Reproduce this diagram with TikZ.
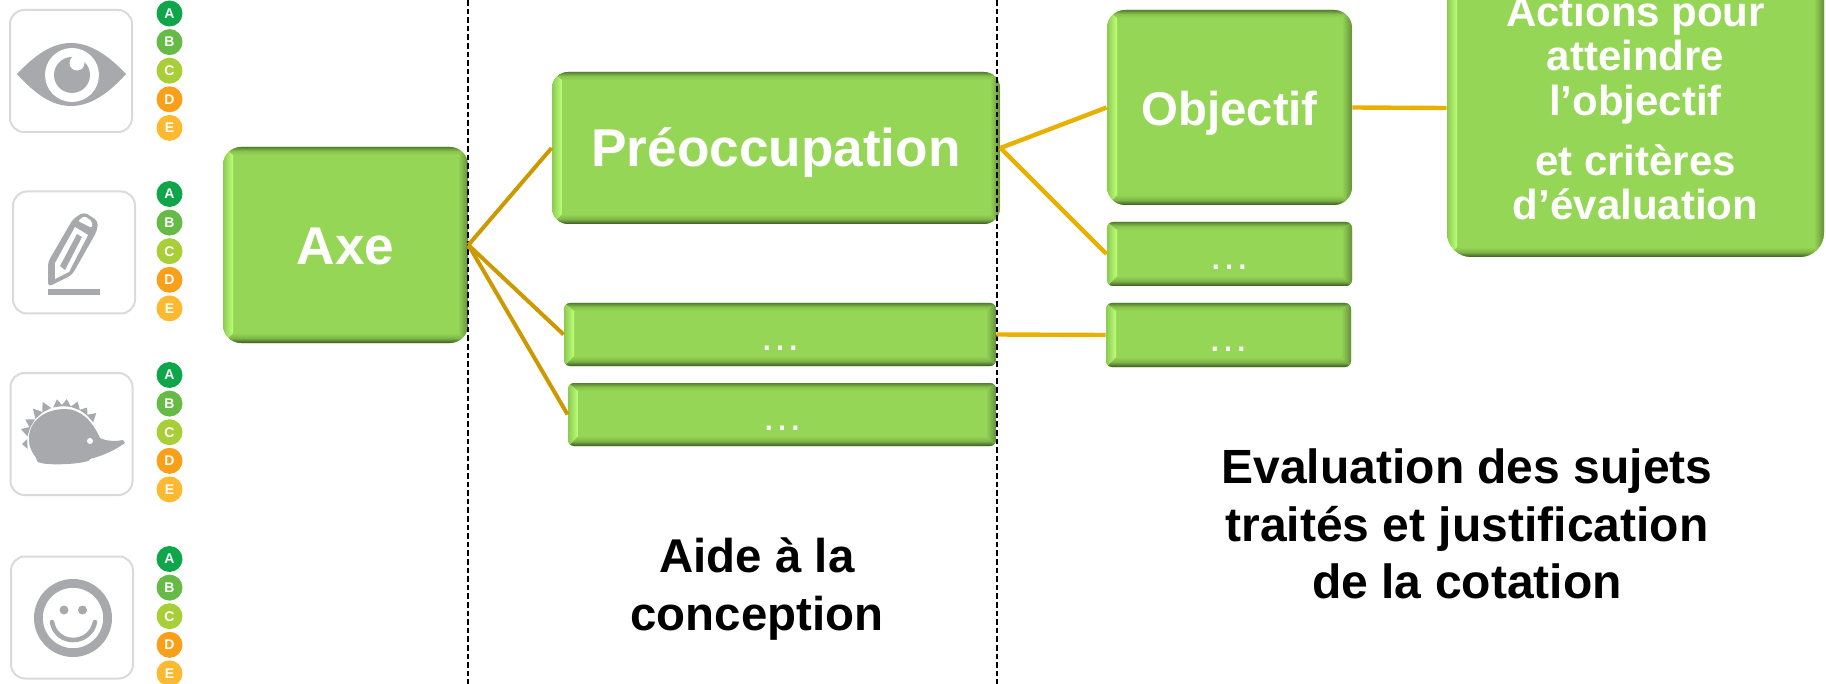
\documentclass[tikz,border=0pt]{standalone}
\usepackage{fontspec}
\usetikzlibrary{calc}
\setmainfont{Liberation Sans}
\definecolor{boxgreen}{HTML}{96D656}
\definecolor{glow}{HTML}{BEFF7A}
\definecolor{edgeleft}{HTML}{8CCB50}
\definecolor{edgetop}{HTML}{557F30}
\definecolor{edgebottom}{HTML}{3A5720}
\definecolor{edgemid}{HTML}{7FB648}
\definecolor{edgeright}{HTML}{668F3C}
\definecolor{linkdark}{HTML}{CC9900}
\definecolor{linklight}{HTML}{E8B000}
\definecolor{framegray}{HTML}{DADADA}
\definecolor{icongray}{HTML}{A7A9AC}
\definecolor{ratea}{HTML}{0FA64B}
\definecolor{rateb}{HTML}{66BB46}
\definecolor{ratec}{HTML}{A8CF38}
\definecolor{rated}{HTML}{F9A01B}
\definecolor{ratee}{HTML}{FDB92F}
\newcommand{\bevelstrips}{
\coordinate (nw) at (path picture bounding box.north west);
\coordinate (ne) at (path picture bounding box.north east);
\coordinate (sw) at (path picture bounding box.south west);
\coordinate (se) at (path picture bounding box.south east);
\shade [sharp corners,top color=edgetop,bottom color=boxgreen,middle color=edgemid!60!boxgreen] (nw) -- (ne) -- ([xshift=-5pt,yshift=-4pt]ne) -- ([xshift=5pt,yshift=-4pt]nw) -- cycle;
\shade [sharp corners,top color=boxgreen,bottom color=edgebottom,middle color=edgemid] (sw) -- (se) -- ([xshift=-5pt,yshift=5pt]se) -- ([xshift=5pt,yshift=5pt]sw) -- cycle;
\shade [sharp corners,left color=boxgreen,right color=edgeright] (ne) -- (se) -- ([xshift=-5pt,yshift=5pt]se) -- ([xshift=-5pt,yshift=-4pt]ne) -- cycle;
\shade [sharp corners,left color=edgeleft,right color=glow] (nw) -- (sw) -- ([xshift=5pt,yshift=5pt]sw) -- ([xshift=5pt,yshift=-4pt]nw) -- cycle;
}
\tikzset{
bevel/.style={fill=boxgreen,text=white,inner sep=0pt,path picture={\bevelstrips}},
bigbox/.style={bevel,rounded corners=8pt,font=\fontsize{26.6}{30}\bfseries\selectfont,text height=19pt,text depth=0pt},
smallbox/.style={bevel,rounded corners=3pt,font=\fontsize{21}{24}\selectfont,text height=16pt,text depth=0pt},
caption/.style={align=center,font=\fontsize{23.7}{28.6}\bfseries\selectfont},
frame/.style={draw=framegray,line width=1pt,rounded corners=7pt,minimum size=61pt},
rate/.style={circle,inner sep=0pt,minimum size=13pt,text=white,font=\fontsize{7}{7}\bfseries\selectfont},
linka/.style={draw=linkdark,line width=2pt},
linkb/.style={draw=linklight,line width=2.2pt},
limit/.style={line width=1.2pt,dash pattern=on 2.8pt off 1.5pt},
}
\begin{document}
\begin{tikzpicture}[x=.5pt,y=-.5pt]
\path [use as bounding box,clip] (0,0) rectangle (1826,684);
\node (axe) [bigbox,rounded corners=9pt,minimum width=122.5pt,minimum height=98pt] at (345.5,245) {Axe};
\node (preocc) [bigbox,minimum width=224pt,minimum height=76pt] at (776,148) {Préoccupation};
\node (sub1) [smallbox,minimum width=216pt,minimum height=31.5pt] at (780,334.5) {…};
\node (sub2) [smallbox,minimum width=214pt,minimum height=31.5pt] at (782,414.5) {…};
\node (objectif) [bigbox,rounded corners=9pt,minimum width=122.5pt,minimum height=97.5pt,font=\fontsize{23.7}{28}\bfseries\selectfont,text height=18pt] at (1229.5,107.5) {Objectif};
\node (obj2) [smallbox,minimum width=122.5pt,minimum height=32pt] at (1229.5,254) {…};
\node (obj3) [smallbox,minimum width=122.5pt,minimum height=32pt] at (1228.5,335) {…};
\node (actions) [bevel,rounded corners=12pt,minimum width=188.5pt,minimum height=149pt,align=center,font=\fontsize{21}{22.3}\bfseries\selectfont] at (1635.5,108) {Actions pour\\atteindre\\l’objectif\\[7.5pt]et critères\\d’évaluation};
\draw [limit] (468,0) -- (468,684);
\draw [limit] (997,0) -- (997,684);
\draw [linka] (axe.east) to (preocc.west);
\draw [linka] (axe.east) to (sub1.west);
\draw [linka] (axe.east) to (sub2.west);
\draw [linkb] (preocc.east) to (objectif.west);
\draw [linkb] (preocc.east) to (obj2.west);
\draw [linkb] (sub1.east) to (obj3.west);
\draw [linkb] (objectif.east) to (actions.west);
\node (aide) [caption] at (757,589) {Aide à la\\conception};
\node (evaluation) [caption,font=\fontsize{24}{28.6}\bfseries\selectfont] at (1467,524) {Evaluation des sujets\\traités et justification\\de la cotation};
\foreach \g/\ya in {1/13.5,2/194,3/375,4/559}
  \foreach \i/\l/\c in {0/A/ratea,1/B/rateb,2/C/ratec,3/D/rated,4/E/ratee}
    \node (r\g\l) [rate,fill=\c] at (169.5,{\ya+28.6*\i}) {\l};
\node (eyebox) [frame] at (71,71) {};
\node (penbox) [frame] at (74,252.5) {};
\node (hogbox) [frame] at (71.5,434) {};
\node (facebox) [frame] at (72,617.5) {};
% eye
\fill [icongray] (17,74) .. controls (35,55) and (52,43) .. (71,43) .. controls (90,43) and (108,55) .. (126,74) .. controls (108,94) and (90,106) .. (71,106) .. controls (52,106) and (35,94) .. (17,74) -- cycle;
\fill [white] (72,75) circle [radius=27];
\fill [icongray] (72,75) circle [radius=18];
\fill [white] (77,63) circle [radius=7.5];
% pencil
\fill [icongray] (48,289) rectangle (100,295);
\fill [icongray,rounded corners=2pt] (48,287) -- (48,262) -- (73,219) -- (84,212) -- (98,221) -- (97,231) -- (72,275) -- cycle;
\fill [white] (55,263) -- (75,227) -- (88,235) -- (69,272) -- (55,279) -- cycle;
\fill [icongray] (60,266) -- (77,234) -- (82,237) -- (65,270) -- cycle;
\fill [white,rounded corners=1pt] (78,221) -- (84,216) -- (92,221) -- (92,228) -- cycle;
% hedgehog
\fill [icongray] (29,440) .. controls (28,421) and (45,409) .. (65,409) .. controls (80,409) and (92,420) .. (100,438) .. controls (108,442) and (118,441) .. (123,440) -- (125,443) .. controls (115,450) and (105,455) .. (90,459) .. controls (92,464) and (40,467) .. (37,461) .. controls (38,458) and (29,452) .. (29,440) -- cycle;
\foreach \a/\r in {177/41,197/44,211/44,228/45,243/45,262/43,275/43,290/43,305/42,319/44}
  \fill [icongray] (63,442) ++(\a:\r) -- ($(63,442)+(\a+8:36)$) -- ($(63,442)+(\a-8:36)$) -- cycle;
\fill [white] (90,441) circle [radius=3];
% smiley
\draw [icongray,line width=4.4pt] (73,618) circle [radius=34.6];
\fill [icongray] (64,610) circle [radius=4.5];
\fill [icongray] (82.5,610) circle [radius=4.5];
\draw [icongray,line width=2.3pt,line cap=round] (52,622) .. controls (56,646) and (90,646) .. (95,622);
\end{tikzpicture}
\end{document}
